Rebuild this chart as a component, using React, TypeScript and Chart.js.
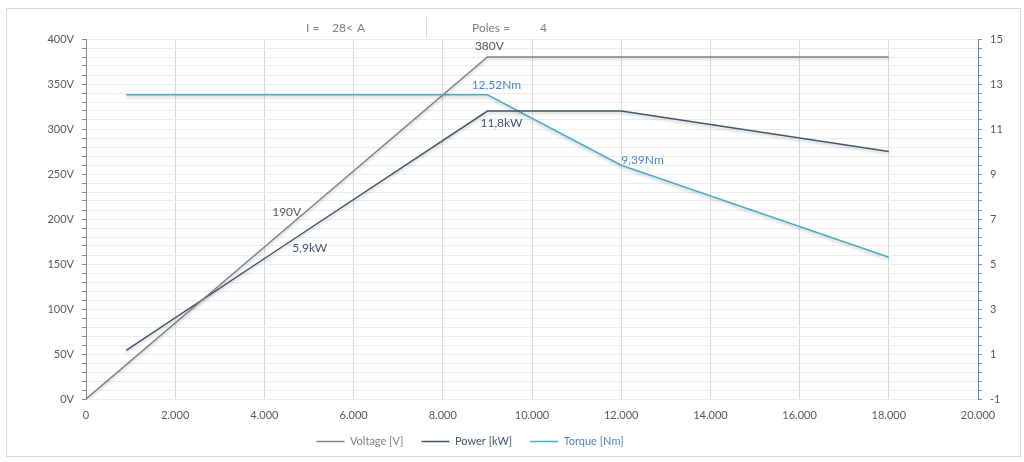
import React, { useEffect, useRef } from "react";
import { Chart, registerables } from "chart.js";

Chart.register(...registerables);

// ---- data ----
const voltageRpm = [0, 4500, 9000, 18000];
const voltageValues = [0, 190, 380, 380];
const voltageLabels = ["", "190V", "380V", ""];

const powerRpm = [900, 4500, 9000, 12000, 18000];
const powerValues = [1.16, 5.9, 11.8, 11.8, 10.0];
const powerLabels = ["", "5,9kW", "11,8kW", "", ""];

const torqueRpm = [900, 9000, 12000, 18000];
const torqueValues = [12.52, 12.52, 9.39, 5.3];
const torqueLabels = ["", "12,52Nm", "9,39Nm", ""];

const seriesNames = ["Voltage [V]", "Power [kW]", "Torque [Nm]"];
const headerCurrentLabel = "I =";
const headerCurrentValue = "28<";
const headerCurrentUnit = "A";
const headerPolesLabel = "Poles =";
const headerPolesValue = "4";

// ---- styles ----
const FONT = 'Lato, "Open Sans", sans-serif';
const C_VOLT = "#808080";
const C_POWER = "#44546a";
const C_TORQUE = "#4bacc6";
const LEGEND_TEXT = ["#7f7f7f", "#44546a", "#4f81bd"];
const LABEL_TEXT = ["#595959", "#44546a", "#4a86c8"];
const labelOffsets: Record<string, [number, number, CanvasTextAlign]> = {
  "190V": [0, -16, "center"],
  "380V": [2, -11, "center"],
  "5,9kW": [23, 4, "center"],
  "11,8kW": [14, 12, "center"],
  "12,52Nm": [9, -10, "center"],
  "9,39Nm": [0, -5, "left"],
};

const fmtThousands = (v: number) =>
  String(Math.round(v)).replace(/\B(?=(\d{3})+(?!\d))/g, ".");

const frame = {
  id: "frame",
  beforeDraw(chart: any) {
    const ctx = chart.ctx;
    ctx.save();
    ctx.fillStyle = "#ffffff";
    ctx.fillRect(0, 0, chart.width, chart.height);
    ctx.strokeStyle = "#d9d9d9";
    ctx.lineWidth = 1;
    ctx.strokeRect(6.5, 8.5, 1014, 448);
    // header
    ctx.fillStyle = "#7f7f7f";
    ctx.font = `12px ${FONT}`;
    ctx.textBaseline = "middle";
    ctx.textAlign = "left";
    ctx.fillText(headerCurrentLabel, 306, 28);
    ctx.fillText(headerCurrentValue, 332, 28);
    ctx.fillText(headerCurrentUnit, 357, 28);
    ctx.fillText(headerPolesLabel, 472, 28);
    ctx.fillText(headerPolesValue, 540, 28);
    ctx.strokeStyle = "#d9d9d9";
    ctx.beginPath();
    ctx.moveTo(426.5, 17);
    ctx.lineTo(426.5, 38);
    ctx.stroke();
    ctx.restore();
  },
};

// moves the legend box to where the reference shows it
const legendPlacement = {
  id: "legendPlacement",
  afterLayout(chart: any) {
    const lg = chart.legend;
    if (!lg) return;
    lg.left -= 42;
    lg.right -= 42;
    lg.top -= 5;
    lg.bottom -= 5;
  },
};

const shadow = {
  id: "lineShadow",
  beforeDatasetDraw(chart: any) {
    const ctx = chart.ctx;
    ctx.save();
    ctx.shadowColor = "rgba(0,0,0,0.22)";
    ctx.shadowBlur = 3;
    ctx.shadowOffsetX = 0;
    ctx.shadowOffsetY = 2;
  },
  afterDatasetDraw(chart: any) {
    chart.ctx.restore();
  },
};

const allLabels = [voltageLabels, powerLabels, torqueLabels];

const dataLabels = {
  id: "dataLabels",
  afterDatasetsDraw(chart: any) {
    const ctx = chart.ctx;
    ctx.save();
    ctx.font = `12px ${FONT}`;
    ctx.textBaseline = "middle";
    chart.data.datasets.forEach((ds: any, di: number) => {
      const meta = chart.getDatasetMeta(di);
      const labels = allLabels[di];
      meta.data.forEach((pt: any, i: number) => {
        const txt = labels[i];
        if (!txt) return;
        const off = labelOffsets[txt] || [0, -10, "center"];
        ctx.fillStyle = LABEL_TEXT[di];
        ctx.textAlign = off[2];
        ctx.fillText(txt, pt.x + off[0], pt.y + off[1]);
      });
    });
    ctx.restore();
  },
};

export default function App() {
  const ref = useRef<HTMLCanvasElement | null>(null);

  useEffect(() => {
    if (!ref.current) return;
    Chart.defaults.font.family = FONT;
    const toXY = (xs: number[], ys: number[]) => xs.map((x, i) => ({ x, y: ys[i] }));
    const chart = new Chart(ref.current, {
      type: "line",
      data: {
        datasets: [
          {
            label: seriesNames[0],
            data: toXY(voltageRpm, voltageValues),
            borderColor: C_VOLT,
            backgroundColor: C_VOLT,
            borderWidth: 1.5,
            pointRadius: 0,
            tension: 0,
            yAxisID: "y",
          },
          {
            label: seriesNames[1],
            data: toXY(powerRpm, powerValues),
            borderColor: C_POWER,
            backgroundColor: C_POWER,
            borderWidth: 1.5,
            pointRadius: 0,
            tension: 0,
            yAxisID: "y1",
          },
          {
            label: seriesNames[2],
            data: toXY(torqueRpm, torqueValues),
            borderColor: C_TORQUE,
            backgroundColor: C_TORQUE,
            borderWidth: 1.5,
            pointRadius: 0,
            tension: 0,
            yAxisID: "y1",
          },
        ],
      },
      options: {
        animation: false,
        responsive: false,
        maintainAspectRatio: false,
        layout: { padding: { left: 0, right: 0, top: 39, bottom: 3 } },
        plugins: {
          tooltip: { enabled: false },
          legend: {
            position: "bottom",
            maxHeight: 36,
            labels: {
              usePointStyle: true,
              pointStyleWidth: 28,
              padding: 18,
              font: { size: 11, family: FONT },
              generateLabels: (ch: any) => {
                const items = Chart.defaults.plugins.legend.labels.generateLabels(ch);
                return items.map((it: any, i: number) => ({
                  ...it,
                  pointStyle: "line",
                  lineWidth: 1.5,
                  strokeStyle: ch.data.datasets[i].borderColor,
                  fontColor: LEGEND_TEXT[i],
                }));
              },
            },
          },
        },
        scales: {
          x: {
            type: "linear",
            min: 0,
            max: 20000,
            ticks: {
              stepSize: 2000,
              autoSkip: false,
              maxRotation: 0,
              padding: 10,
              color: "#595959",
              font: { size: 11, family: FONT },
              callback: (v: any) => fmtThousands(Number(v)),
            },
            grid: { color: "#d9d9d9", drawTicks: false },
            border: { display: false },
            afterFit: (s: any) => {
              s.height = 24;
            },
          },
          y: {
            position: "left",
            min: 0,
            max: 400,
            ticks: {
              stepSize: 10,
              autoSkip: false,
              padding: 8,
              color: "#595959",
              font: { size: 11, family: FONT },
              callback: (v: any) => (Number(v) % 50 === 0 ? `${v}V` : ""),
            },
            grid: { color: "#ececec", tickColor: "#868686", tickLength: 4 },
            border: { color: "#868686" },
            afterFit: (s: any) => {
              s.width = 86;
            },
          },
          y1: {
            position: "right",
            min: -1,
            max: 15,
            ticks: {
              stepSize: 0.4,
              autoSkip: false,
              padding: 8,
              color: "#595959",
              font: { size: 11, family: FONT },
              callback: (v: any, i: number) => (i % 5 === 0 ? String(Math.round(Number(v))) : ""),
            },
            grid: { drawOnChartArea: false, tickColor: "#6a8fb0", tickLength: 4 },
            border: { color: "#6a8fb0" },
            afterFit: (s: any) => {
              s.width = 46;
            },
          },
        },
      },
      plugins: [frame, legendPlacement, shadow, dataLabels],
    } as any);
    return () => chart.destroy();
  }, []);

  return (
    <div style={{ position: "absolute", left: 0, top: 0, width: 1024, height: 462 }}>
      <canvas ref={ref} width={1024} height={462} style={{ width: 1024, height: 462, display: "block" }} />
    </div>
  );
}
